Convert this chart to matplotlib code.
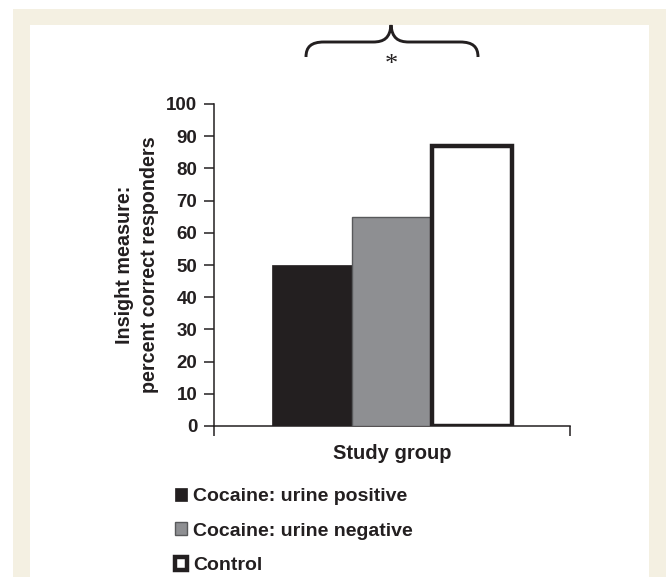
import matplotlib
matplotlib.use("Agg")
import matplotlib.pyplot as plt
from matplotlib.patches import Rectangle, PathPatch
from matplotlib.path import Path

# ---- data ----
groups = ["Cocaine: urine positive", "Cocaine: urine negative", "Control"]
values = [50, 65, 87]
yticks = [0, 10, 20, 30, 40, 50, 60, 70, 80, 90, 100]
xlabel = "Study group"
ylabel = "Insight measure:\npercent correct responders"
sig_label = "*"

W, H = 666, 577
fig = plt.figure(figsize=(W / 100, H / 100), dpi=100, facecolor="white")


def fx(px):
    return px / W


def fy(py):
    return 1 - py / H


# cream frame and white panel
fig.patches.append(Rectangle((fx(13), 0), fx(666) - fx(13), fy(9), transform=fig.transFigure,
                             facecolor="#f4f0e2", edgecolor="none", zorder=-10))
fig.patches.append(Rectangle((fx(30), 0), fx(649) - fx(30), fy(25), transform=fig.transFigure,
                             facecolor="white", edgecolor="none", zorder=-9))

font = "Liberation Sans"
ink = "#231f20"
ax = fig.add_axes([fx(214), fy(426), fx(570) - fx(214), fy(104) - fy(426)])
ax.set_facecolor("none")

face = [ink, "#8e8f92", "white"]
edge = [ink, "#58595b", ink]
lws = [0.5, 1.0, 3.2]
bw = 0.225
offsets = [-bw, 0, bw]
for g, v, o, fc, ec, lw in zip(groups, values, offsets, face, edge, lws):
    ax.bar(o, v, width=bw, color=fc, edgecolor=ec, linewidth=lw, label=g, zorder=3)

ax.set_xlim(-0.5, 0.5)
ax.set_ylim(0, 100)
ax.set_yticks(yticks)
ax.set_yticklabels([str(t) for t in yticks])
for lbl in ax.get_yticklabels():
    lbl.set_fontsize(13.5)
    lbl.set_fontweight("bold")
    lbl.set_family(font)
    lbl.set_color(ink)
ax.set_xticks([-0.5, 0.5])
ax.set_xticklabels(["", ""])
ax.tick_params(axis="both", direction="out", length=7, width=1.1, color=ink, pad=5)
for s in ["top", "right"]:
    ax.spines[s].set_visible(False)
for s in ["left", "bottom"]:
    ax.spines[s].set_linewidth(1.1)
    ax.spines[s].set_color(ink)

ax.set_xlabel(xlabel, fontsize=14.5, fontweight="bold", family=font, color=ink, labelpad=1)
ax.set_ylabel(ylabel, fontsize=14.2, fontweight="bold", family=font, color=ink,
              labelpad=5, linespacing=1.4)

leg = fig.legend(loc="upper left", bbox_to_anchor=(fx(175), fy(488)), bbox_transform=fig.transFigure,
                 frameon=False, borderpad=0, borderaxespad=0, handlelength=0.62, handleheight=0.62,
                 handletextpad=0.31, labelspacing=0.89, prop={"family": font, "weight": "bold", "size": 14})
for t in leg.get_texts():
    t.set_color(ink)
for h, lw in zip(leg.legend_handles, lws):
    h.set_linewidth(lw)

# significance brace
pts = [(306, 57), (306, 47), (311, 42), (324, 42),
       (373, 42), (384, 42), (390, 38), (391, 25),
       (392, 38), (398, 42), (409, 42),
       (460, 42), (473, 42), (478, 47), (478, 57)]
codes = [Path.MOVETO, Path.CURVE4, Path.CURVE4, Path.CURVE4,
         Path.LINETO, Path.CURVE4, Path.CURVE4, Path.CURVE4,
         Path.CURVE4, Path.CURVE4, Path.CURVE4,
         Path.LINETO, Path.CURVE4, Path.CURVE4, Path.CURVE4]
path = Path([(fx(x), fy(y)) for x, y in pts], codes)
fig.patches.append(PathPatch(path, transform=fig.transFigure, facecolor="none",
                             edgecolor=ink, linewidth=2.1, capstyle="butt"))
fig.text(fx(391), fy(71), sig_label, ha="center", va="baseline", fontsize=19,
         family="Liberation Serif", color=ink)

fig.savefig("out.png", dpi=100, facecolor="white")
